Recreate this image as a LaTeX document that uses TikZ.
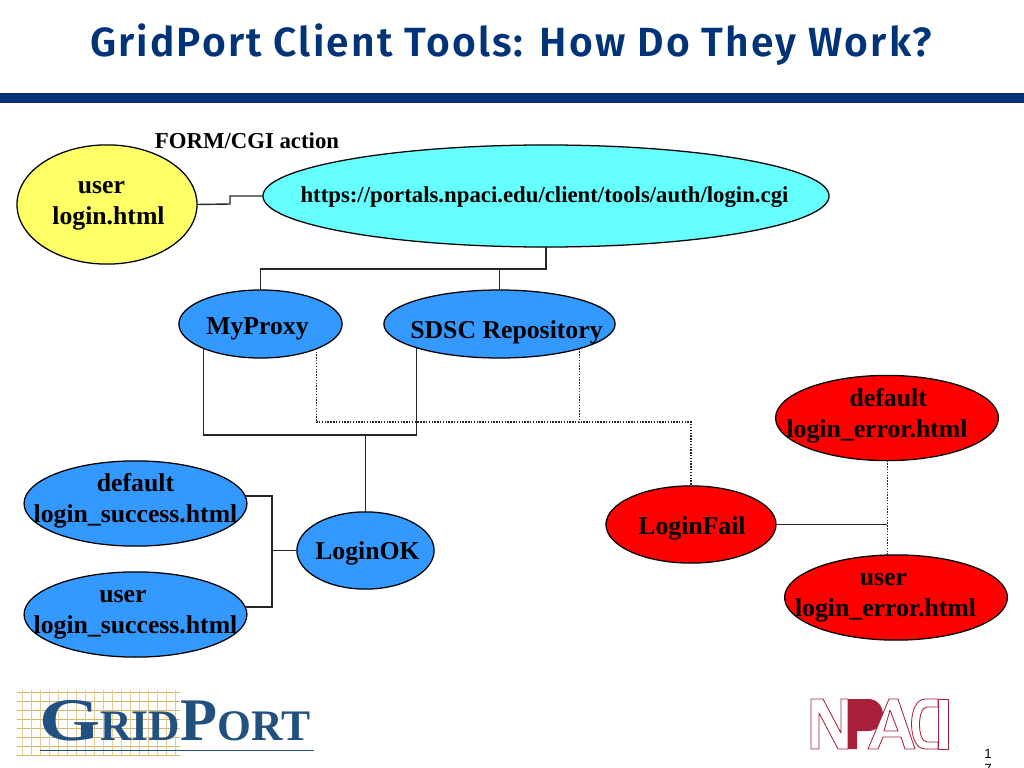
\documentclass[tikz,border=0pt]{standalone}
\usepackage{fontspec}
\setmainfont{Liberation Serif}
\newfontfamily\titlefont[LetterSpace=5.2]{Fira Sans SemiBold}
\newfontfamily\pagefont{Liberation Sans}
\usetikzlibrary{shapes.geometric,positioning}
\definecolor{DEFINE_BAR_COLOR}{HTML}{003377}
\definecolor{DEFINE_BLUE_COLOR}{HTML}{3399FF}
\definecolor{DEFINE_NPACI_COLOR}{HTML}{A8203A}
\definecolor{DEFINE_GRID_COLOR}{HTML}{D8B566}
\definecolor{DEFINE_LOGO_COLOR}{HTML}{22507F}
\tikzstyle{layer} = [ellipse, draw=black, line width=0.9pt, inner sep=0pt, outer sep=0pt]
\tikzstyle{USER_LAYER} = [layer, fill={rgb,255:red,255;green,255;blue,102}, minimum width=4.5cm, minimum height=2.98cm]
\tikzstyle{CGI_LAYER} = [layer, fill={rgb,255:red,102;green,255;blue,255}, minimum width=14.15cm, minimum height=2.55cm]
\tikzstyle{BLUE_LAYER} = [layer, fill=DEFINE_BLUE_COLOR]
\tikzstyle{RED_LAYER} = [layer, fill=red]
\tikzstyle{small_stack} = [minimum width=5.57cm, minimum height=2.13cm]
\tikzstyle{txt} = [font=\fontsize{18.3}{22}\selectfont\bfseries, align=center, inner sep=0pt]
\tikzstyle{link} = [draw=black!85, line width=1pt]
\tikzstyle{dots} = [draw=black!85, line width=1pt, densely dotted]

\begin{document}
\begin{tikzpicture}[x=0.025cm, y=-0.025cm]
      \useasboundingbox (0,0) rectangle (1024,768);

      %%%%%%%%%%%%%%%%%%%%%%%%%%%%%%%%%%%%%%%%%%%%%%%%%
      % TITLE
      %%%%%%%%%%%%%%%%%%%%%%%%%%%%%%%%%%%%%%%%%%%%%%%%%
      \node[font=\titlefont\fontsize{29}{36}\selectfont, text=DEFINE_BAR_COLOR] (title) at (511,45) {GridPort Client Tools: How Do They Work?};
      \fill[DEFINE_BAR_COLOR] (0,93) rectangle (1024,103);

      %%%%%%%%%%%%%%%%%%%%%%%%%%%%%%%%%%%%%%%%%%%%%%%%%
      % ELLIPSES
      %%%%%%%%%%%%%%%%%%%%%%%%%%%%%%%%%%%%%%%%%%%%%%%%%
      \node[USER_LAYER] (USER) at (107,204.5) {};
      \node[CGI_LAYER] (CGI) at (546,196) {};
      \node[BLUE_LAYER, minimum width=4.08cm, minimum height=1.7cm] (PROXY) at (260.5,324) {};
      \node[BLUE_LAYER, minimum width=5.78cm, minimum height=1.7cm] (SDSC) at (499.5,324) {};
      \node[BLUE_LAYER, small_stack] (DSUCCESS) at (135.5,503.5) {};
      \node[BLUE_LAYER, small_stack] (USUCCESS) at (135.5,614.5) {};
      \node[BLUE_LAYER, minimum width=3.43cm, minimum height=1.93cm] (OK) at (365.5,550.5) {};
      \node[RED_LAYER, minimum width=4.25cm, minimum height=1.93cm] (FAIL) at (691,524.5) {};
      \node[RED_LAYER, small_stack] (DERROR) at (887,418) {};
      \node[RED_LAYER, small_stack] (UERROR) at (896,597.5) {};

      %%%%%%%%%%%%%%%%%%%%%%%%%%%%%%%%%%%%%%%%%%%%%%%%%
      % LABELS
      %%%%%%%%%%%%%%%%%%%%%%%%%%%%%%%%%%%%%%%%%%%%%%%%%
      \node[txt, font=\fontsize{16.2}{20}\selectfont\bfseries] (form) at (247,141) {FORM/CGI action};
      \node[txt] (t_user) at (108.5,206) {user\hspace*{10pt}\\login.html};
      \node[txt, font=\fontsize{16.2}{20}\selectfont\bfseries] (t_cgi) at (544.5,197) {https://portals.npaci.edu/client/tools/auth/login.cgi};
      \node[txt] (t_proxy) at (257.5,329) {MyProxy};
      \node[txt] (t_sdsc) at (506.5,332) {SDSC Repository};
      \node[txt] (t_dsuccess) at (135.5,501) {default\\login\_success.html};
      \node[txt] (t_usuccess) at (135.5,615) {user\hspace*{18pt}\\login\_success.html};
      \node[txt] (t_ok) at (367.5,553) {LoginOK};
      \node[txt] (t_fail) at (692,528) {LoginFail};
      \node[txt] (t_derror) at (877,416) {\hspace*{16pt}default\\login\_error.html};
      \node[txt] (t_uerror) at (885.5,598) {user\hspace*{3pt}\\login\_error.html};
      \node[font=\pagefont\fontsize{9.5}{11}\selectfont, align=center, inner sep=0pt, anchor=north] (page) at (988,749) {1\\7};

      %%%%%%%%%%%%%%%%%%%%%%%%%%%%%%%%%%%%%%%%%%%%%%%%%
      % SOLID CONNECTORS
      %%%%%%%%%%%%%%%%%%%%%%%%%%%%%%%%%%%%%%%%%%%%%%%%%
      \coordinate (j_user) at (230,204);
      \coordinate (j_cgi) at (546,269);
      \coordinate (j_both) at (365.5,435);
      \coordinate (j_bracket) at (272,550.5);
      \draw[link] (USER.east) -- (j_user) -- (j_user |- CGI.west) -- (CGI.west);
      \draw[link] (CGI.south) -- (j_cgi) -| (PROXY.north);
      \draw[link] (j_cgi -| SDSC.north) -- (SDSC.north);
      \draw[link] (PROXY.203) |- (j_both) -| (SDSC.196.5);
      \draw[link] (j_both) -- (OK.north);
      \draw[link] (DSUCCESS.4) -| (j_bracket) |- (USUCCESS.4);
      \draw[link] (j_bracket) -- (OK.west);
      \draw[link] (FAIL.east) -- (FAIL.east -| DERROR.south);

      %%%%%%%%%%%%%%%%%%%%%%%%%%%%%%%%%%%%%%%%%%%%%%%%%
      % DOTTED CONNECTORS
      %%%%%%%%%%%%%%%%%%%%%%%%%%%%%%%%%%%%%%%%%%%%%%%%%
      \coordinate (j_fail) at (691,422);
      \draw[dots] (PROXY.336.6) |- (j_fail) -- (FAIL.north);
      \draw[dots] (SDSC.343) -- (SDSC.343 |- j_fail);
      \draw[dots, line width=0.7pt] (DERROR.south) -- (DERROR.south |- UERROR.north);

      %%%%%%%%%%%%%%%%%%%%%%%%%%%%%%%%%%%%%%%%%%%%%%%%%
      % GRIDPORT LOGO
      %%%%%%%%%%%%%%%%%%%%%%%%%%%%%%%%%%%%%%%%%%%%%%%%%
      \foreach \y in {692,701,...,755} \draw[DEFINE_GRID_COLOR, line width=0.5pt] (17,\y) -- (180,\y);
      \foreach \x in {22,31,...,180} \draw[DEFINE_GRID_COLOR!70, line width=0.5pt] (\x,690) -- (\x,755);
      \node[font=\fontsize{43}{43}\selectfont\bfseries, text=DEFINE_LOGO_COLOR, inner sep=0pt, anchor=base west] (logo) at (39,740)
            {\scalebox{1.3}[1]{G}\fontsize{31}{31}\selectfont RID\fontsize{43}{43}\selectfont P\fontsize{31}{31}\selectfont ORT};
      \draw[DEFINE_LOGO_COLOR, line width=1.2pt] (40,750.5) -- (314,750.5);

      %%%%%%%%%%%%%%%%%%%%%%%%%%%%%%%%%%%%%%%%%%%%%%%%%
      % NPACI LOGO
      %%%%%%%%%%%%%%%%%%%%%%%%%%%%%%%%%%%%%%%%%%%%%%%%%
      \begin{scope}[draw=DEFINE_NPACI_COLOR, line width=0.6pt, line join=round]
      \draw (811,749) -- (819,749) -- (819,713) -- (838,749) -- (848,749) -- (848,699) -- (841,699) -- (841,733) -- (823,699) -- (811,699) -- cycle;
      \fill[DEFINE_NPACI_COLOR] (848,699) -- (868,699) .. controls (888,699) and (888,731) .. (868,731) -- (857,731) -- (857,749) -- (848,749) -- cycle;
      \draw[fill=white] (868,749) -- (889,699) -- (898,699) -- (915,749) -- (905,749) -- (901,737) -- (883,737) -- (878,749) -- cycle;
      \draw (890,710) -- (884,731) -- (898,731) -- cycle;
      \draw (938,699) -- (925,699) .. controls (907,699) and (907,749) .. (925,749) -- (938,749) -- (938,742) -- (927,742) .. controls (917,742) and (917,707) .. (927,707) -- (938,707) -- cycle;
      \draw (938,699) rectangle (948,749);
      \end{scope}
\end{tikzpicture}
\end{document}
